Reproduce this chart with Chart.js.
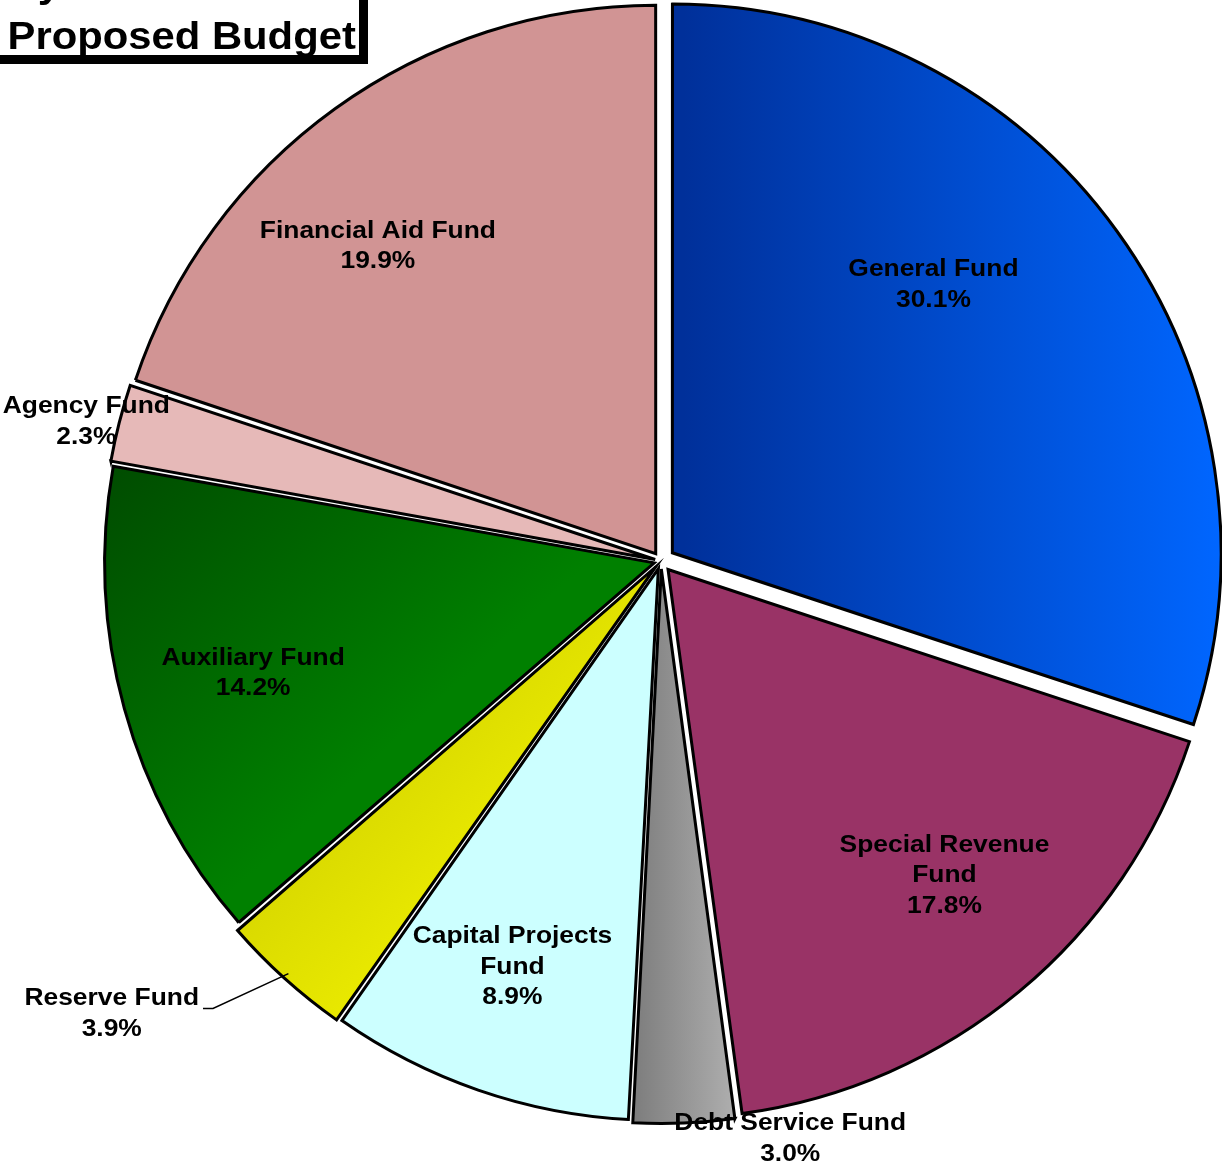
<!DOCTYPE html>
<html>
<head>
<meta charset="utf-8">
<script src="https://cdn.jsdelivr.net/npm/chart.js@4/dist/chart.umd.min.js"></script>
<style>
  html, body { margin: 0; padding: 0; background: #fff; }
  #wrap { position: relative; width: 1222px; height: 1169px; overflow: hidden; }
  #titleBox {
    position: absolute; left: -12px; top: -45px; width: 368px; height: 97px;
    background: #fff; border: 3px solid #000; box-shadow: 6px 6px 0 #000;
    font-family: "Liberation Sans", Arial, sans-serif; font-weight: bold; font-size: 38px;
    line-height: 52px; color: #000;
  }
  #titleBox div { transform: scaleX(1.1); transform-origin: 0 0; padding-left: 15px; white-space: nowrap; }
</style>
</head>
<body>
<div id="wrap">
  <canvas id="c" width="1222" height="1169"></canvas>
  <div id="titleBox"><div>By Fund</div><div>Proposed Budget</div></div>
</div>
<script>
// Fund shares of the proposed budget (percent)
const funds = ['General Fund', 'Special Revenue Fund', 'Debt Service Fund', 'Capital Projects Fund',
               'Reserve Fund', 'Auxiliary Fund', 'Agency Fund', 'Financial Aid Fund'];
const shares = [30.1, 17.8, 3.0, 8.9, 3.9, 14.2, 2.3, 19.9];
// Label lines as printed on the chart
const labelLines = [
  ['General Fund'], ['Special Revenue', 'Fund'], ['Debt Service Fund'], ['Capital Projects', 'Fund'],
  ['Reserve Fund'], ['Auxiliary Fund'], ['Agency Fund'], ['Financial Aid Fund']
];

// Styling and layout
const flatColors = ['#0050e0', '#993366', '#969696', '#ccffff', '#e4e400', '#007000', '#e6b9b8', '#d19494'];
// Chart.js arcs are pushed out by offset/4 pixels
const sliceOffsets = [56, 44, 32, 32, 32, 28, 24, 36];
// Gradient end points relative to the pie centre, in units of the radius
const gradientSpecs = [
  { from: [0.02, 0], to: [1.0, 0], stops: ['#00309a', '#0066ff'] },
  null,
  { from: [-0.05, 0], to: [0.14, 0], stops: ['#7d7d7d', '#b0b0b0'] },
  null,
  { from: [-0.77, 0.62], to: [-0.57, 0.80], stops: ['#d8d800', '#e8e800'] },
  { from: [-1.0, -0.17], to: [-0.51, 0.36], stops: ['#004c00', '#008000'] },
  null,
  null
];
// Label anchor in polar form: angle clockwise from 12 o'clock (deg), distance as fraction of radius
const labelPolar = [[44.6, 0.708], [138.0, 0.773], [167.4, 1.081], [200.1, 0.789],
                    [230.5, 1.299], [254.6, 0.772], [283.6, 1.079], [318.0, 0.772]];
const PIE_RADIUS = 548;
const LABEL_FONT = 'bold 24px "Liberation Sans", Arial, sans-serif';
const LINE_H = 30.5;
const TEXT_SCALE_X = 1.1;

function pieCentre(chart) {
  const a = chart.chartArea;
  return { x: (a.left + a.right) / 2, y: (a.top + a.bottom) / 2 };
}

function sliceFill(context) {
  const chart = context.chart;
  const i = context.dataIndex;
  const spec = gradientSpecs[i];
  if (!chart.chartArea || !spec) return flatColors[i];
  const c = pieCentre(chart);
  const R = PIE_RADIUS;
  const g = chart.ctx.createLinearGradient(c.x + spec.from[0] * R, c.y + spec.from[1] * R,
                                           c.x + spec.to[0] * R, c.y + spec.to[1] * R);
  g.addColorStop(0, spec.stops[0]);
  g.addColorStop(1, spec.stops[1]);
  return g;
}

const fundLabels = {
  id: 'fundLabels',
  afterDatasetsDraw(chart) {
    const ctx = chart.ctx;
    const meta = chart.getDatasetMeta(0);
    const c = pieCentre(chart);
    const R = PIE_RADIUS;
    ctx.save();
    ctx.font = LABEL_FONT;
    ctx.fillStyle = '#000';
    ctx.textAlign = 'center';
    ctx.textBaseline = 'middle';
    meta.data.forEach((arc, i) => {
      const [deg, frac] = labelPolar[i];
      const a = deg * Math.PI / 180;
      const lx = c.x + Math.sin(a) * frac * R;
      const ly = c.y - Math.cos(a) * frac * R;
      const lines = labelLines[i].concat([shares[i].toFixed(1) + '%']);
      const top = ly - (lines.length - 1) * LINE_H / 2;
      lines.forEach((t, k) => {
        ctx.save();
        ctx.translate(lx, top + k * LINE_H);
        ctx.scale(TEXT_SCALE_X, 1);
        ctx.fillText(t, 0, 0);
        ctx.restore();
      });
    });
    // Leader line for the Reserve Fund label, from its text to the slice rim
    const ri = 4;
    const arc = meta.data[ri];
    const mid = (arc.startAngle + arc.endAngle) / 2;
    const off = sliceOffsets[ri] / 4;
    const rimX = arc.x + Math.cos(mid) * (off + arc.outerRadius);
    const rimY = arc.y + Math.sin(mid) * (off + arc.outerRadius);
    const [deg, frac] = labelPolar[ri];
    const a = deg * Math.PI / 180;
    const lx = c.x + Math.sin(a) * frac * R;
    const ly = c.y - Math.cos(a) * frac * R - LINE_H / 2;
    ctx.font = LABEL_FONT;
    const w = ctx.measureText(labelLines[ri][0]).width * TEXT_SCALE_X;
    const sx = lx + w / 2 + 4;
    ctx.strokeStyle = '#000';
    ctx.lineWidth = 1.5;
    ctx.beginPath();
    ctx.moveTo(sx, ly + 10);
    ctx.lineTo(sx + 10, ly + 10);
    ctx.lineTo(rimX, rimY);
    ctx.stroke();
    ctx.restore();
  }
};

new Chart(document.getElementById('c'), {
  type: 'pie',
  data: {
    labels: funds,
    datasets: [{
      data: shares,
      backgroundColor: sliceFill,
      borderColor: '#000',
      borderWidth: 3,
      borderJoinStyle: 'miter',
      offset: sliceOffsets,
      radius: PIE_RADIUS
    }]
  },
  options: {
    responsive: false,
    animation: false,
    layout: { padding: { left: 100, right: 0, top: 0, bottom: 47 } },
    plugins: { legend: { display: false }, tooltip: { enabled: false }, title: { display: false } }
  },
  plugins: [fundLabels]
});
</script>
</body>
</html>
